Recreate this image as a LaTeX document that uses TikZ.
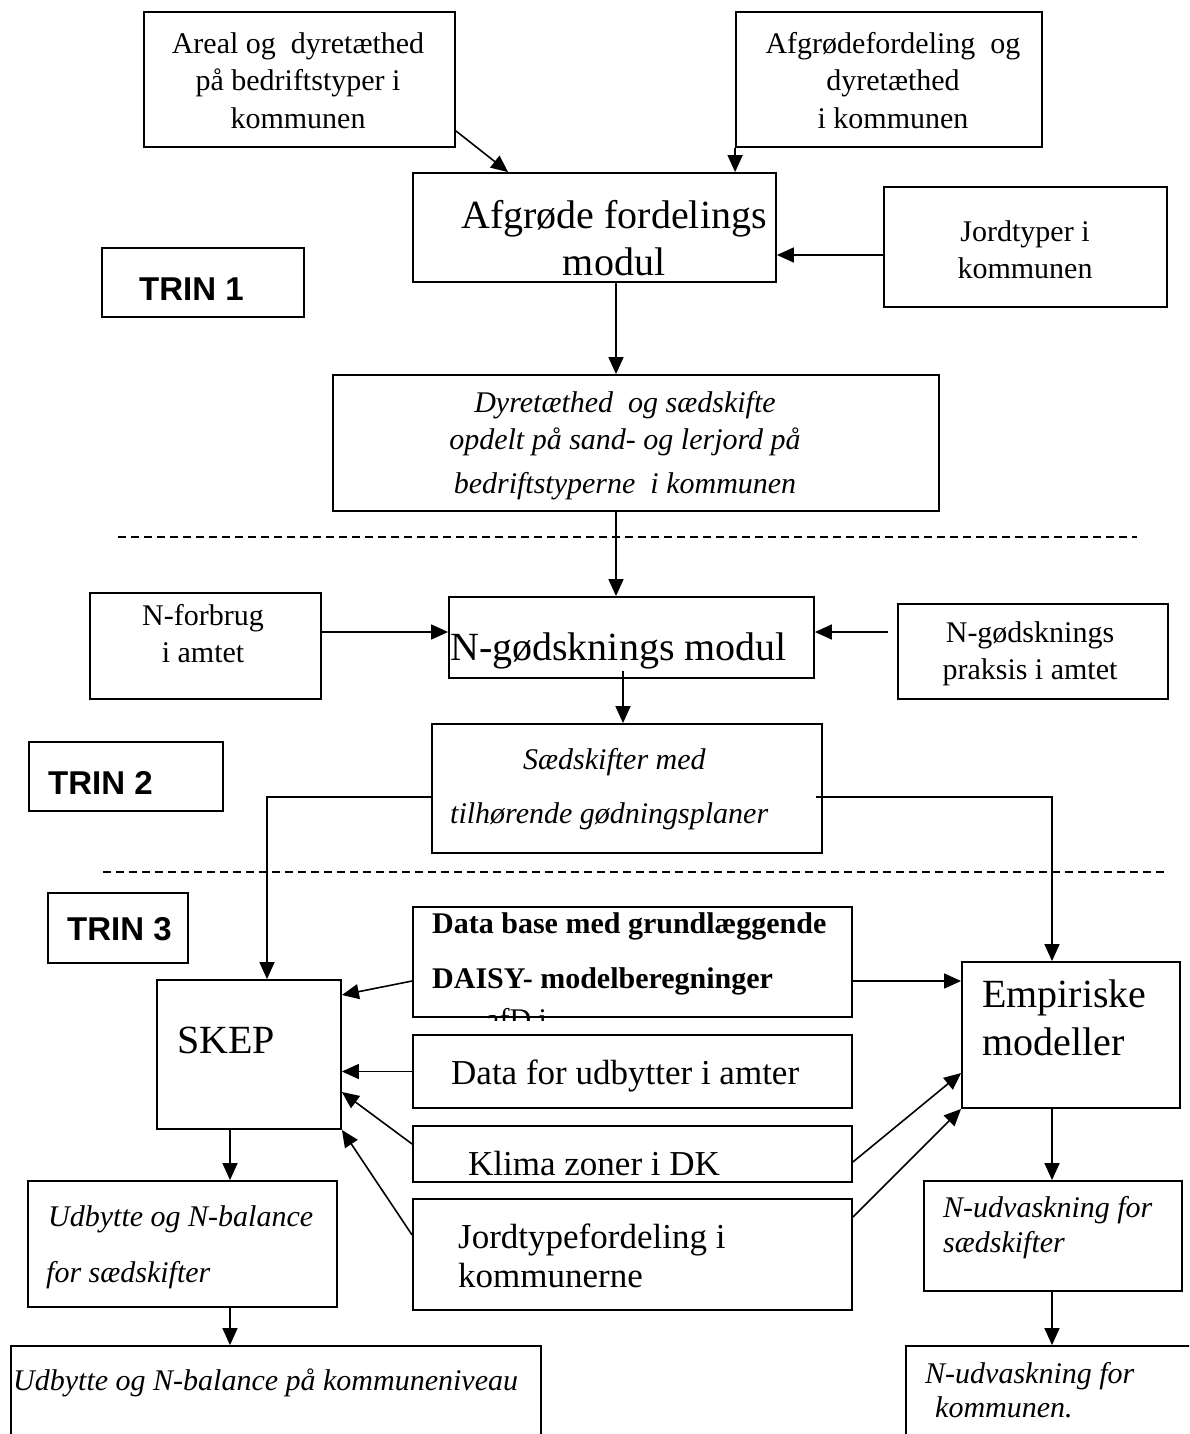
\documentclass[tikz,border=0pt]{standalone}
\usepackage{fontspec}
\setmainfont{Liberation Serif}
\newfontfamily\arialfont{Liberation Sans}
\usetikzlibrary{arrows.meta,calc}
\tikzset{
  box/.style={draw, line width=1.8pt, inner sep=0pt, rectangle},
  arr/.style={line width=1.6pt, -{Triangle[length=17pt,width=15pt]}},
  dsh/.style={line width=1.5pt, dash pattern=on 8pt off 5pt},
  tc/.style={inner sep=0pt, anchor=north, align=center, yshift=#1},
  tc/.default=26.25pt,
  bl/.style={inner sep=0pt, anchor=base west},
  r30/.style={font=\fontsize{30}{37.5}\selectfont},
  i30/.style={font=\itshape\fontsize{30}{37.5}\selectfont},
  b30/.style={font=\bfseries\fontsize{30}{37.5}\selectfont},
  r35/.style={font=\fontsize{35}{39}\selectfont},
  r40/.style={font=\fontsize{40}{47}\selectfont},
  trin/.style={font=\arialfont\bfseries\fontsize{33}{40}\selectfont},
}
\newcommand\rbox[5]{%
  \pgfmathsetmacro\rbw{#4-#2}\pgfmathsetmacro\rbh{#5-#3}%
  \pgfmathsetmacro\rbx{(#2+#4)/2}\pgfmathsetmacro\rby{(#3+#5)/2}%
  \node[box, minimum width=\rbw pt, minimum height=\rbh pt] (#1) at (\rbx,\rby) {};}
\begin{document}
\begin{tikzpicture}[x=1pt,y=-1pt]
\useasboundingbox (0,0) rectangle (1189,1434);
\clip (0,0) rectangle (1189,1434);
\fill[white] (0,0) rectangle (1189,1434);

% boxes
\rbox{A}{144}{12}{455}{147}
\rbox{B}{736}{12}{1042}{147}
\rbox{C}{413}{173}{776}{282}
\rbox{D}{884}{187}{1167}{307}
\rbox{T1}{102}{248}{304}{317}
\rbox{E}{333}{375}{939}{511}
\rbox{F}{449}{597}{814}{678}
\rbox{G}{90}{593}{321}{699}
\rbox{H}{898}{604}{1168}{699}
\rbox{I}{432}{724}{822}{853}
\rbox{T2}{29}{742}{223}{811}
\rbox{T3}{48}{893}{188}{963}
\rbox{DA}{413}{907}{852}{1017}
\rbox{SK}{157}{980}{341}{1129}
\rbox{UD}{413}{1035}{852}{1108}
\rbox{KL}{413}{1126}{852}{1182}
\rbox{JO}{413}{1199}{852}{1310}
\rbox{EM}{962}{962}{1180}{1108}
\rbox{UB}{28}{1181}{337}{1307}
\rbox{BL}{11}{1346}{541}{1460}
\rbox{NU}{924}{1181}{1182}{1291}
\rbox{BR}{906}{1346}{1220}{1460}

% dashed separators
\draw[dsh] (118,537) -- (1137,537);
\draw[dsh] (103,872) -- (1168,872);

% texts
\node[tc,r30] (At) at (298,53) {\strut Areal og\ \ dyretæthed\\\strut på bedriftstyper i\\\strut kommunen};
\node[tc,r30] (Bt) at (893,53) {\strut Afgrødefordeling\ \ og\\\strut dyretæthed\\\strut i kommunen};
\node[tc=32.9pt,r40] (Ct) at (614,228) {\strut Afgrøde fordelings\\\strut modul};
\node[tc,r30] (Dt) at (1025,241) {\strut Jordtyper i\\\strut kommunen};
\node[bl,trin] (T1t) at (139,300) {TRIN 1};
\node[tc,i30] (Et) at (625,412) {\strut Dyretæthed\ \ og sædskifte\\\strut opdelt på sand- og lerjord på\\[6.5pt]\strut bedriftstyperne\ \ i kommunen};
\node[bl,r40] (Ft) at (450,660) {N-gødsknings modul};
\node[tc,r30] (Gt) at (203,625) {\strut N-forbrug\\\strut i amtet};
\node[tc,r30] (Ht) at (1030,642) {\strut N-gødsknings\\\strut praksis i amtet};
\node[bl,i30] (I1) at (523,769) {Sædskifter med};
\node[bl,i30] (I2) at (450,823) {tilhørende gødningsplaner};
\node[bl,trin] (T2t) at (48,794) {TRIN 2};
\node[bl,trin] (T3t) at (67,940) {TRIN 3};
\node[bl,b30] (DA1) at (432,933) {Data base med grundlæggende};
\node[bl,b30] (DA2) at (432,988) {DAISY- modelberegninger};
\begin{scope}
  \clip (DA.north west) rectangle ($(DA.south east)+(0,3)$);
  \node[bl,r30] (DA3) at (486,1029) {afD i};
\end{scope}
\node[bl,r40] (SKt) at (177,1053) {SKEP};
\node[bl,r35] (UDt) at (451,1084) {Data for udbytter i amter};
\node[bl,r35] (KLt) at (468,1175) {Klima zoner i DK};
\node[bl,r35] (JO1) at (458,1248) {Jordtypefordeling i};
\node[bl,r35] (JO2) at (458,1287) {kommunerne};
\node[bl,r40] (EM1) at (982,1007) {Empiriske};
\node[bl,r40] (EM2) at (982,1055) {modeller};
\node[bl,i30] (UB1) at (48,1226) {Udbytte og N-balance};
\node[bl,i30] (UB2) at (46,1282) {for sædskifter};
\node[bl,i30] (BLt) at (13,1390) {Udbytte og N-balance på kommuneniveau};
\node[bl,i30] (NU1) at (943,1217) {N-udvaskning for};
\node[bl,i30] (NU2) at (943,1252) {sædskifter};
\node[bl,i30] (BR1) at (925,1383) {N-udvaskning for};
\node[bl,i30] (BR2) at (935,1417) {kommunen.};

% helper coordinates
\coordinate (d1) at ([yshift=-8pt]D.west);
\coordinate (xce) at (616,0);
\coordinate (ygf) at (0,632);
\coordinate (xfi) at (623,0);
\coordinate (yi) at (0,797);
\coordinate (xsk) at (267,0);
\coordinate (xem) at (1052,0);
\coordinate (yda) at (0,981);
\coordinate (ysk1) at (0,995);
\coordinate (ykl) at (0,1144);
\coordinate (ysk2) at (0,1092);
\coordinate (yjo) at (0,1235);
\coordinate (ykr) at (0,1162);
\coordinate (yem1) at (0,1073);
\coordinate (yjr) at (0,1217);
\coordinate (xub) at (230,0);

% connectors
\draw[arr] ([yshift=17pt]A.south east) -- ([xshift=96pt]C.north west);
\draw[arr] (B.south west) -- (C.north -| B.south west);
\draw[arr] (d1) -- (C.east |- d1);
\draw[arr] (C.south -| xce) -- (E.north -| xce);
\draw[arr] (E.south -| xce) -- (F.north -| xce);
\draw[arr] (G.east |- ygf) -- (F.west |- ygf);
\draw[arr] ($(H.west |- ygf)+(-9,0)$) -- (F.east |- ygf);
\draw[arr] ($(F.south -| xfi)+(0,-8)$) -- (I.north -| xfi);
\draw[arr] (I.west |- yi) -| (SK.north -| xsk);
\draw[arr] ($(I.east |- yi)+(-7,0)$) -| (EM.north -| xem);
\draw[arr] (DA.west |- yda) -- (SK.east |- ysk1);
\draw[arr] (DA.east |- yda) -- (EM.west |- yda);
\draw[arr] (UD.west) -- (SK.east |- UD.west);
\draw[arr] (KL.west |- ykl) -- (SK.east |- ysk2);
\draw[arr] (JO.west |- yjo) -- (SK.south east);
\draw[arr] (KL.east |- ykr) -- (EM.west |- yem1);
\draw[arr] (JO.east |- yjr) -- (EM.south west);
\draw[arr] (SK.south -| xub) -- (UB.north -| xub);
\draw[arr] (UB.south -| xub) -- (BL.north -| xub);
\draw[arr] (EM.south -| xem) -- (NU.north -| xem);
\draw[arr] (NU.south -| xem) -- (BR.north -| xem);
\end{tikzpicture}
\end{document}
